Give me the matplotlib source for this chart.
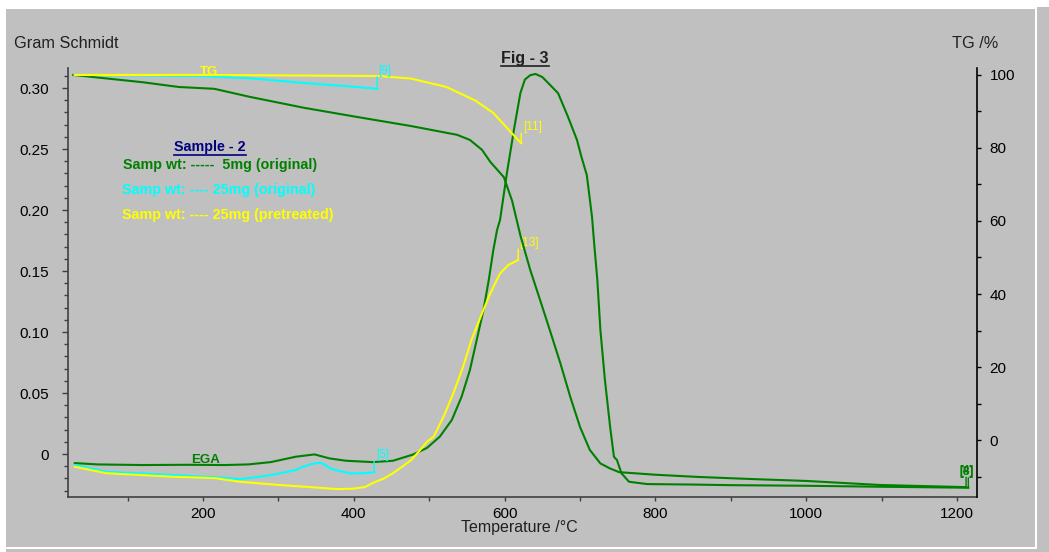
import matplotlib
matplotlib.use('Agg')
import matplotlib.pyplot as plt
import matplotlib.patches as patches
from matplotlib.lines import Line2D
from matplotlib.ticker import MultipleLocator, FuncFormatter

plt.rcParams['font.family'] = ['Liberation Sans', 'DejaVu Sans']

# EGA (Gram Schmidt) curves, left axis
ega_5mg_T = [30, 60, 120, 180, 229, 260, 290, 323, 348, 368, 390, 425, 452, 479, 497,
             514, 530, 543, 554, 563, 572, 579, 585, 590, 594, 603, 613, 621, 627, 634,
             641, 650, 658, 671, 684, 696, 702, 709, 712, 716, 719, 723, 727, 733, 740,
             745, 749, 755, 765, 789, 850, 900, 1000, 1100, 1215]
ega_5mg_v = [-0.0074, -0.0085, -0.009, -0.0088, -0.009, -0.0085, -0.0066, -0.0022, -0.0003,
             -0.0036, -0.0055, -0.0066, -0.0055, -0.0003, 0.0050, 0.0142, 0.0279, 0.047,
             0.0689, 0.0934, 0.118, 0.1426, 0.167, 0.1836, 0.192, 0.230, 0.268, 0.296,
             0.307, 0.3105, 0.3115, 0.309, 0.304, 0.2957, 0.2765, 0.2574, 0.2434, 0.2287,
             0.214, 0.194, 0.171, 0.1426, 0.102, 0.061, 0.022, -0.0022, -0.0049, -0.0158,
             -0.0227, -0.0246, -0.025, -0.0255, -0.026, -0.0268, -0.0276]

ega_25mg_T = [30, 72, 120, 160, 215, 249, 262, 290, 302, 323, 329, 345, 356, 362, 369,
              376, 395, 410, 427]
ega_25mg_v = [-0.009, -0.0145, -0.016, -0.0172, -0.019, -0.0205, -0.0197, -0.0172, -0.0158,
              -0.0131, -0.0112, -0.008, -0.0071, -0.009, -0.0117, -0.0131, -0.0158,
              -0.0158, -0.015]

ega_pre_T = [30, 72, 160, 215, 249, 302, 340, 377, 399, 415, 426, 440, 452, 465, 476, 488,
             497, 506, 519, 532, 545, 556, 570, 581, 594, 605, 618]
ega_pre_v = [-0.0104, -0.0157, -0.0186, -0.0197, -0.0227, -0.0254, -0.027, -0.0287, -0.0284,
             -0.027, -0.0235, -0.020, -0.0157, -0.010, -0.005, 0.0033, 0.010, 0.0142,
             0.0306, 0.0497, 0.0716, 0.0934, 0.1153, 0.1317, 0.148, 0.155, 0.159]

# TG curves, right axis
tg_5mg_T = [28, 60, 120, 168, 215, 262, 334, 404, 476, 537, 554, 570, 581, 599, 610, 621,
            634, 647, 660, 674, 687, 700, 713, 727, 740, 752, 800, 856, 930, 1000, 1097, 1212]
tg_5mg_v = [100, 99.3, 98, 96.7, 96.2, 94, 91, 88.5, 86, 83.6, 82.2, 79.5, 76.2, 72, 65.5,
            56, 46.6, 38.4, 30.1, 21, 11.9, 3.6, -2.7, -6.4, -7.8, -8.8, -9.5, -10.1, -10.7,
            -11.2, -12.3, -12.9]

tg_25mg_T = [30, 196, 262, 334, 404, 431]
tg_25mg_v = [100, 99.7, 99.1, 97.8, 96.7, 96.2]

tg_pre_T = [30, 200, 433, 476, 523, 561, 585, 608, 622]
tg_pre_v = [100, 100, 99.7, 99, 96.7, 93, 89.6, 84.4, 81.3]

GREEN = '#008000'
CYAN = '#00ffff'
YELLOW = '#ffff00'
PANEL = '#c0c0c0'

W, H = 1049, 552
fig = plt.figure(figsize=(W / 100, H / 100), dpi=100)
fig.patch.set_facecolor('white')

# grey panels of the screenshot
for (x0, y0, x1, y1) in [(6, 9, 1035, 547), (1037, 7, 1049, 552), (6, 549, 1049, 552)]:
    fig.patches.append(patches.Rectangle((x0 / W, 1 - y1 / H), (x1 - x0) / W, (y1 - y0) / H,
                                         transform=fig.transFigure, facecolor=PANEL,
                                         edgecolor='none', zorder=-5))

ax = fig.add_axes([68 / W, 1 - 497 / H, (977 - 68) / W, (497 - 68) / H])
ax.set_facecolor(PANEL)
ax2 = ax.twinx()

ax.set_xlim(21, 1226.5)
ax.set_ylim(-0.0352, 0.3164)
ax2.set_ylim(-15.6, 101.9)

# lines
ax.plot(ega_5mg_T, ega_5mg_v, color=GREEN, lw=1.5)
ax.plot(ega_25mg_T, ega_25mg_v, color=CYAN, lw=1.5)
ax.plot(ega_pre_T, ega_pre_v, color=YELLOW, lw=1.5)
ax2.plot(tg_5mg_T, tg_5mg_v, color=GREEN, lw=1.5)
ax2.plot(tg_25mg_T, tg_25mg_v, color=CYAN, lw=1.5)
ax2.plot(tg_pre_T, tg_pre_v, color=YELLOW, lw=1.5)


def marker(axis, T, v, label, color, dy=11, dx=1, ha='left', bold=False):
    axis.annotate('', xy=(T[-1], v[-1]), xytext=(0, dy), textcoords='offset pixels',
                  arrowprops=dict(arrowstyle='-', color=color, lw=1, shrinkA=0, shrinkB=0))
    axis.annotate(label, xy=(T[-1], v[-1]), xytext=(dx, dy), textcoords='offset pixels',
                  color=color, fontsize=8.5, ha=ha, va='bottom',
                  fontweight='bold' if bold else 'normal')


marker(ax2, tg_25mg_T, tg_25mg_v, '[9]', CYAN, dy=12)
marker(ax2, tg_pre_T, tg_pre_v, '[11]', YELLOW, dy=10, dx=2)
marker(ax, ega_pre_T, ega_pre_v, '[13]', YELLOW, dy=11, dx=1)
marker(ax, ega_25mg_T, ega_25mg_v, '[5]', CYAN, dy=11, dx=2)
marker(ax2, tg_5mg_T, tg_5mg_v, '[4]', GREEN, dy=10, dx=0, ha='center', bold=True)
marker(ax, ega_5mg_T, ega_5mg_v, '[8]', GREEN, dy=10, dx=-2, ha='center', bold=True)

# axes styling
for s in ['top', 'right']:
    ax.spines[s].set_visible(False)
for s in ['top', 'left', 'bottom']:
    ax2.spines[s].set_visible(False)
ax.spines['left'].set_color('#404040')
ax.spines['bottom'].set_color('#404040')
ax2.spines['right'].set_color('black')
for s in [ax.spines['left'], ax.spines['bottom'], ax2.spines['right']]:
    s.set_linewidth(1.2)

ax.xaxis.set_major_locator(MultipleLocator(200))
ax.xaxis.set_minor_locator(MultipleLocator(100))
ax.yaxis.set_major_locator(MultipleLocator(0.05))
ax.yaxis.set_minor_locator(MultipleLocator(0.01))
ax2.yaxis.set_major_locator(MultipleLocator(20))
ax2.yaxis.set_minor_locator(MultipleLocator(10))
ax.yaxis.set_major_formatter(FuncFormatter(lambda v, p: '0' if abs(v) < 1e-9 else f'{v:.2f}'))

ax.tick_params(axis='y', which='major', length=4.5, width=1, color='#404040', labelsize=11, pad=9)
ax.tick_params(axis='y', which='minor', length=3, width=1, color='#404040')
ax.tick_params(axis='x', which='major', length=3, width=1, color='#404040', labelsize=11, pad=4)
ax.tick_params(axis='x', which='minor', length=3, width=1, color='#404040')
ax2.tick_params(axis='y', which='major', length=3, width=1, labelsize=11, pad=6)
ax2.tick_params(axis='y', which='minor', length=3, width=1)


def ftext(x, y, s, **kw):
    return fig.text(x / W, 1 - y / H, s, va='baseline', ha='left', **kw)


ftext(14, 48, 'Gram Schmidt', fontsize=11.7, color='#202020')
ftext(952, 48, 'TG /%', fontsize=11.7, color='#202020')
ftext(461, 532, 'Temperature /°C', fontsize=11.5, color='#202020')
fig_t = ftext(501, 62.5, 'Fig - 3', fontsize=11.5, fontweight='bold', color='#202020')
samp_t = ftext(174, 151, 'Sample - 2', fontsize=10.3, fontweight='bold', color='#000080')
ftext(123, 168.5, 'Samp wt: -----  5mg (original)', fontsize=10.3, fontweight='bold', color=GREEN)
ftext(122, 194, 'Samp wt: ---- 25mg (original)', fontsize=10.3, fontweight='bold', color=CYAN)
ftext(122, 219.5, 'Samp wt: ---- 25mg (pretreated)', fontsize=10.3, fontweight='bold', color=YELLOW)
ftext(200, 75, 'TG', fontsize=9.5, fontweight='bold', color=YELLOW)
ftext(191, 463, 'EGA', fontsize=9.5, fontweight='bold', color=GREEN)

# underline for the two headings
fig.canvas.draw()
for t, c in [(fig_t, '#202020'), (samp_t, '#000080')]:
    bb = t.get_window_extent()
    y = bb.y0 - 0.5
    fig.add_artist(Line2D([bb.x0 / W, bb.x1 / W], [y / H, y / H], transform=fig.transFigure,
                          color=c, lw=1.2))

fig.savefig('out.png', dpi=100, facecolor='white')
